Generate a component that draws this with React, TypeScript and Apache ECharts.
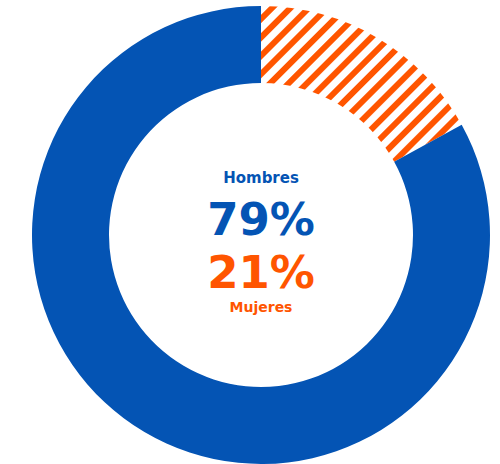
import React, { useEffect, useRef } from "react";
import * as echarts from "echarts";

const categories = ["Mujeres", "Hombres"];
const sliceValues = [17, 83];
const centerTitles = ["Hombres", "Mujeres"];
const centerPercents = ["79%", "21%"];

const BLUE = "#0454B4";
const ORANGE = "#FF5500";

export default function App() {
  const ref = useRef<HTMLDivElement>(null);
  useEffect(() => {
    document.body.style.margin = "0";
    const chart = echarts.init(ref.current!, null, { renderer: "svg" });
    const cx = 261;
    const cy = 235;
    const font = "DejaVu Sans";
    chart.setOption({
      animation: false,
      backgroundColor: "#ffffff",
      series: [
        {
          type: "pie",
          center: [cx, cy],
          radius: [152, 229],
          startAngle: 90,
          clockwise: true,
          silent: true,
          label: { show: false },
          labelLine: { show: false },
          emphasis: { disabled: true },
          data: [
            {
              name: categories[0],
              value: sliceValues[0],
              itemStyle: {
                color: "#ffffff",
                decal: {
                  symbol: "rect",
                  symbolSize: 1,
                  color: ORANGE,
                  backgroundColor: "#ffffff",
                  dashArrayX: [1, 0],
                  dashArrayY: [6, 7],
                  rotation: -Math.PI / 4,
                },
              },
            },
            {
              name: categories[1],
              value: sliceValues[1],
              itemStyle: { color: BLUE },
            },
          ],
        },
      ],
      graphic: [
        {
          type: "text",
          x: cx,
          y: 178,
          style: {
            text: centerTitles[0],
            fill: BLUE,
            font: `bold 15px "${font}"`,
            textAlign: "center",
            textVerticalAlign: "middle",
          },
        },
        {
          type: "text",
          x: cx,
          y: 219,
          style: {
            text: centerPercents[0],
            fill: BLUE,
            font: `bold 45px "${font}"`,
            textAlign: "center",
            textVerticalAlign: "middle",
          },
        },
        {
          type: "text",
          x: cx,
          y: 272,
          style: {
            text: centerPercents[1],
            fill: ORANGE,
            font: `bold 45px "${font}"`,
            textAlign: "center",
            textVerticalAlign: "middle",
          },
        },
        {
          type: "text",
          x: cx,
          y: 307,
          style: {
            text: centerTitles[1],
            fill: ORANGE,
            font: `bold 14px "${font}"`,
            textAlign: "center",
            textVerticalAlign: "middle",
          },
        },
      ],
    });
    return () => chart.dispose();
  }, []);
  return <div ref={ref} style={{ width: 500, height: 464 }} />;
}
